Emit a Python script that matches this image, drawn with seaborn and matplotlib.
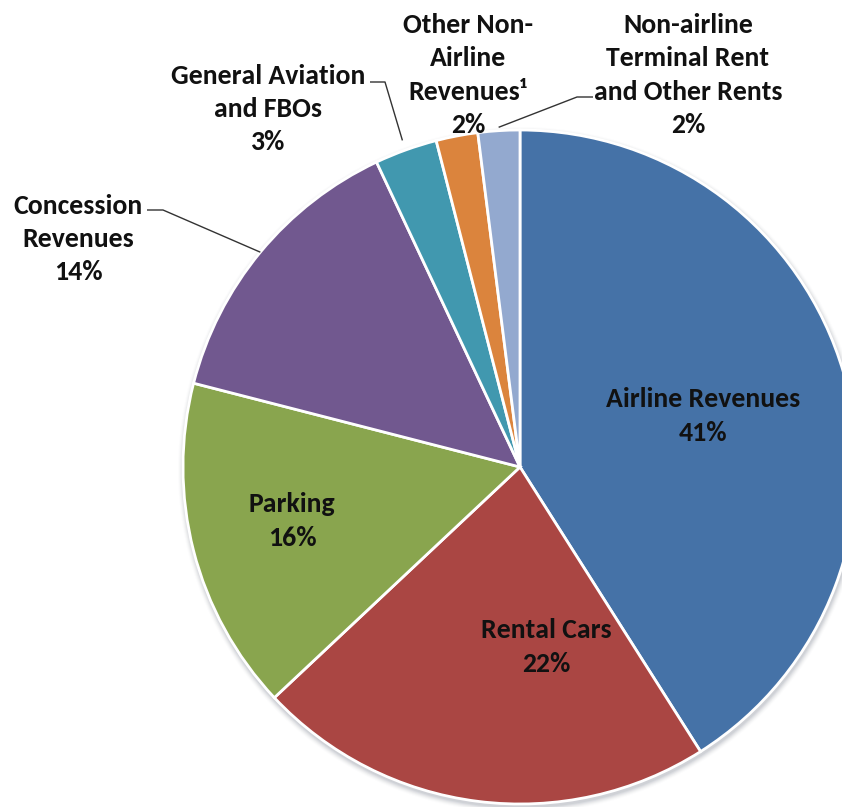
import numpy as np
import matplotlib
matplotlib.use("Agg")
import matplotlib.pyplot as plt
from matplotlib.patches import Circle
from matplotlib import font_manager
import seaborn as sns

# Revenue shares (percent), listed clockwise from 12 o'clock
categories = [
    "Airline Revenues",
    "Rental Cars",
    "Parking",
    "Concession\nRevenues",
    "General Aviation\nand FBOs",
    "Other Non-\nAirline\nRevenues\u00b9",
    "Non-airline\nTerminal Rent\nand Other Rents",
]
shares = [41, 22, 16, 14, 3, 2, 2]
colors = ["#4572A7", "#AA4643", "#89A54E", "#71588F", "#4198AF", "#DB843D", "#93A9CF"]

sns.set_theme(style="white")
available = {f.name for f in font_manager.fontManager.ttflist}
family = next(f for f in ["Carlito", "Lato", "Open Sans", "DejaVu Sans"] if f in available)
plt.rcParams["font.family"] = [family, "DejaVu Sans"]

W, H = 842, 807
fig = plt.figure(figsize=(W / 100, H / 100), dpi=100)
ax = fig.add_axes([0, 0, 1, 1])

cx, cy, R = 520, 340, 337

# soft drop shadow under the pie
for i, a in enumerate(np.linspace(0.10, 0.02, 6)):
    ax.add_patch(Circle((cx + 1, cy - 3), R + 1 + i, color="#6b7280", alpha=a, lw=0, zorder=0))

wedges, _ = ax.pie(
    shares,
    colors=sns.color_palette(colors),
    startangle=90,
    counterclock=False,
    center=(cx, cy),
    radius=R,
    wedgeprops=dict(edgecolor="white", linewidth=2),
    frame=True,
)
ax.set_xlim(0, W)
ax.set_ylim(0, H)
ax.set_aspect("equal")
ax.axis("off")

txt = dict(ha="center", va="center", fontsize=20, fontweight="bold",
           color="#111111", linespacing=1.47)

def label(i, x, y):
    ax.text(x, y, f"{categories[i]}\n{shares[i]}%", zorder=5, **txt)

# labels inside the large wedges
label(0, 703, 391)
label(1, 546, 160)
label(2, 292, 286)
# labels outside the small wedges
label(3, 78, 568)
label(4, 268, 698)
label(5, 468, 732)
label(6, 688, 732)

def edge_point(w, scale=1.02):
    mid = np.deg2rad((w.theta1 + w.theta2) / 2)
    return cx + R * scale * np.cos(mid), cy + R * scale * np.sin(mid)

def leader(w, start, elbow, scale=1.02):
    ex, ey = edge_point(w, scale)
    ax.plot([start[0], elbow[0], ex], [start[1], elbow[1], ey],
            color="#333333", lw=1.0, zorder=4, solid_capstyle="butt")

leader(wedges[3], (147, 597), (163, 597), 1.0)
leader(wedges[4], (370, 725), (385, 725), 1.03)
leader(wedges[6], (593, 710), (577, 710), 1.01)

fig.savefig("out.png", dpi=100, facecolor="white")
